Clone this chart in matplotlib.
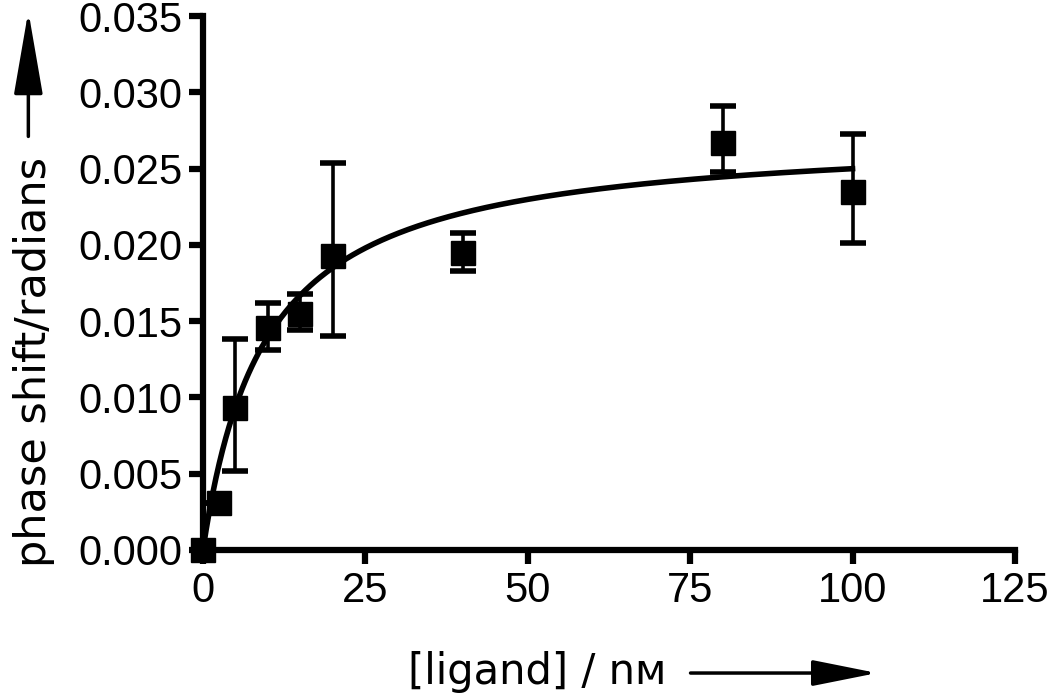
import numpy as np
import matplotlib
matplotlib.use("Agg")
import matplotlib.pyplot as plt
from matplotlib.patches import FancyArrowPatch

# dados
ligand = [0, 2.5, 5, 10, 15, 20, 40, 80, 100]
phase = [0.0, 0.0031, 0.0093, 0.01455, 0.0155, 0.0193, 0.0195, 0.0267, 0.0235]
err_low = [0.0, 0.0, 0.0041, 0.00145, 0.0011, 0.0053, 0.0012, 0.0019, 0.0034]
err_high = [0.0, 0.0, 0.0045, 0.00165, 0.0013, 0.0061, 0.0013, 0.0024, 0.0038]

# parametros do ajuste hiperbolico (Bmax, Kd)
bmax = 0.0274
kd = 9.6

xticks = [0, 25, 50, 75, 100, 125]
yticks = [0.000, 0.005, 0.010, 0.015, 0.020, 0.025, 0.030, 0.035]

plt.rcParams['font.family'] = ['Liberation Sans', 'DejaVu Sans']

fig = plt.figure(figsize=(10.5, 6.96), dpi=100)
ax = fig.add_axes([0.1933, 0.2098, 0.7733, 0.767])

xfit = np.linspace(0, 100, 400)
ax.plot(xfit, bmax * xfit / (kd + xfit), color='black', lw=4, zorder=2)

ax.errorbar(ligand, phase, yerr=[err_low, err_high], fmt='s', color='black',
            ms=17, elinewidth=2.6, capsize=9.5, capthick=4, zorder=3,
            clip_on=False)

ax.set_xlim(0, 125)
ax.set_ylim(0, 0.035)
ax.set_xticks(xticks)
ax.set_yticks(yticks)
ax.set_xticklabels([str(t) for t in xticks])
ax.set_yticklabels([f"{t:.3f}" for t in yticks])

for s in ['top', 'right']:
    ax.spines[s].set_visible(False)
for s in ['left', 'bottom']:
    ax.spines[s].set_linewidth(4.5)
    ax.spines[s].set_capstyle('projecting')
ax.tick_params(direction='out', length=10, width=4.5, labelsize=30, pad=5)

# rotulos com setas
fig.text(0.032, 0.48, 'phase shift/radians', rotation=90, fontsize=31,
         family='DejaVu Sans', ha='center', va='center')
fig.add_artist(FancyArrowPatch(
    (0.027, 0.80), (0.027, 0.988), transform=fig.transFigure,
    arrowstyle='-|>,head_length=2.6,head_width=0.45', lw=2.5, color='black',
    mutation_scale=20))

fig.text(0.389, 0.034, '[ligand] / nᴍ', fontsize=30, family='DejaVu Sans',
         ha='left', va='center')
fig.add_artist(FancyArrowPatch(
    (0.655, 0.033), (0.838, 0.033), transform=fig.transFigure,
    arrowstyle='-|>,head_length=2.0,head_width=0.4', lw=2.5, color='black',
    mutation_scale=20))

fig.savefig('out.png', dpi=100)
